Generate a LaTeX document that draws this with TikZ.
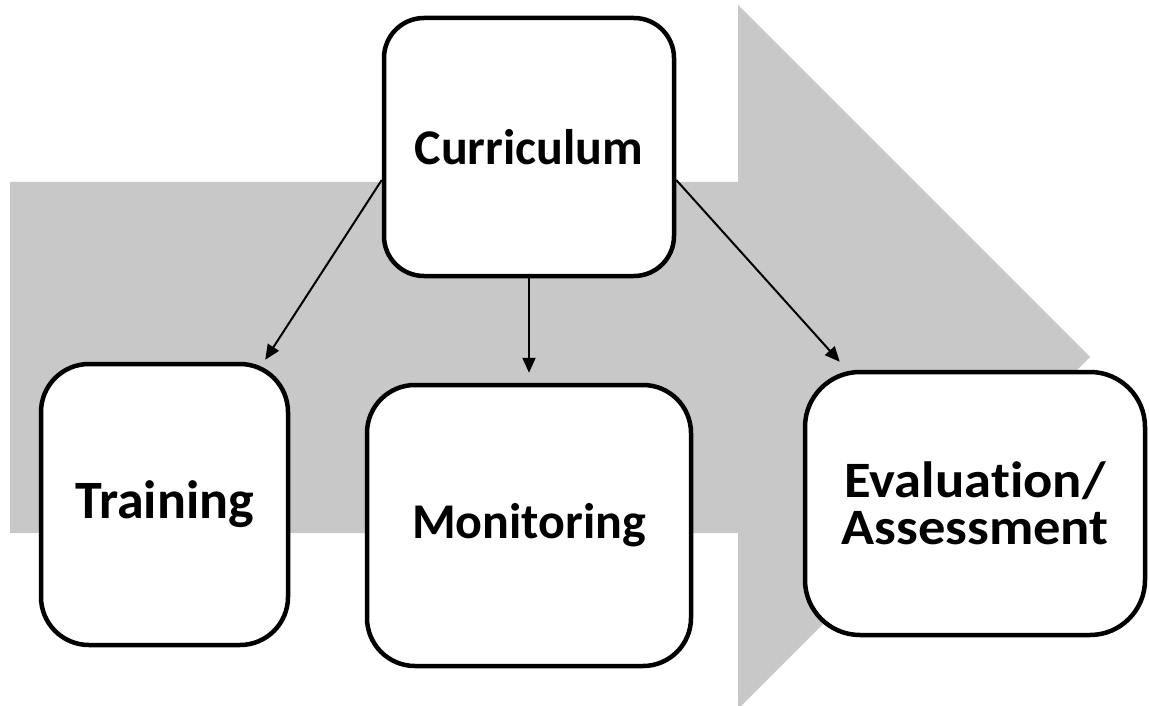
\documentclass[tikz,border=0pt]{standalone}
\usepackage{fontspec}
\setmainfont{Carlito}[Ligatures=NoCommon]
\newfontfamily\evfont{Carlito}[Ligatures=NoCommon,FakeStretch=1.07]
\usetikzlibrary{arrows.meta}
\definecolor{bandgray}{RGB}{200,200,200}
\begin{document}
\begin{tikzpicture}[x=1pt,y=-1pt,
  boxnode/.style={draw=black, line width=4.5pt, fill=white, rounded corners=#1,
    align=center, inner sep=0pt, font=\fontsize{50}{54}\selectfont\bfseries},
  conn/.style={line width=2pt, -{Triangle[length=15pt,width=13pt]}}]
\useasboundingbox (0,0) rectangle (1149,706);
% big gray arrow
\fill[bandgray] (10,182) -- (738,182) -- (738,5) -- (1090,357) -- (741,706)
  -- (738,706) -- (738,533) -- (10,533) -- cycle;
% boxes
\node[boxnode=40pt, minimum width=290pt, minimum height=258pt] (cur) at (529,147) {Curriculum};
\node[boxnode=48pt, minimum width=247pt, minimum height=281pt,
  font=\fontsize{54}{58}\selectfont\bfseries] (tr) at (164.5,504.5) {Training};
\node[boxnode=48pt, minimum width=324pt, minimum height=281pt] (mon) at (529,525.5) {Monitoring};
\node[boxnode=55pt, minimum width=340pt, minimum height=263pt,
  font=\evfont\fontsize{51}{47}\selectfont\bfseries] (ev) at (975,503.5) {Evaluation/\\Assessment};
% connectors
\draw[conn] ([yshift=-33pt]cur.west) -- ([xshift=-25pt,yshift=2pt]tr.north east);
\draw[conn] (cur.south) -- ([yshift=10pt]mon.north);
\draw[conn] ([yshift=-33pt]cur.east) -- ([xshift=37pt,yshift=8pt]ev.north west);
\end{tikzpicture}
\end{document}
